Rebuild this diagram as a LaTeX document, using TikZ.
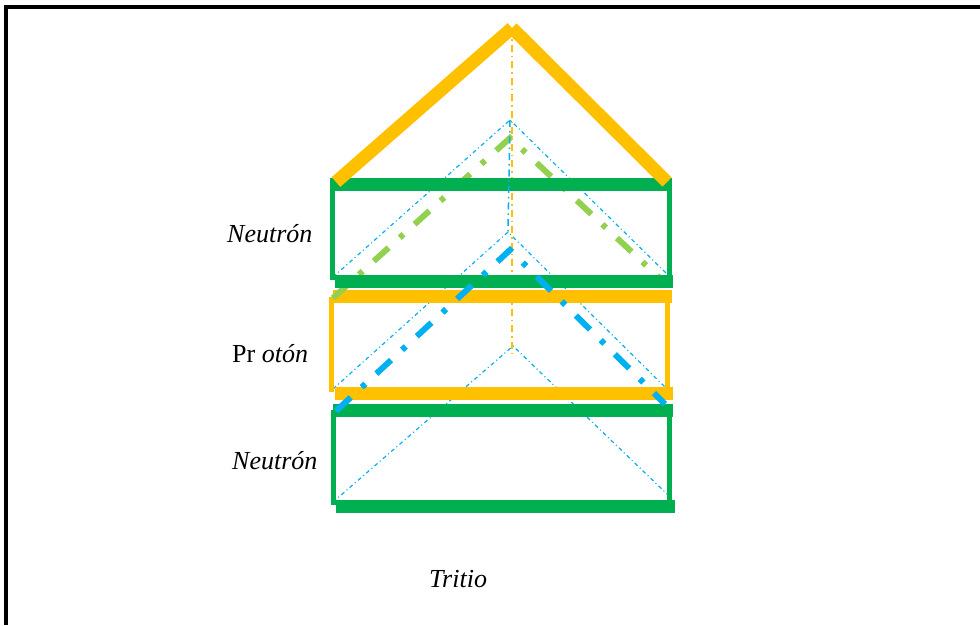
\documentclass[tikz,border=0pt]{standalone}
\usepackage{fontspec}
\setmainfont{Liberation Serif}
\definecolor{ogreen}{HTML}{00B050}
\definecolor{oorange}{HTML}{FFC000}
\definecolor{lgreen}{HTML}{92D050}
\definecolor{oblue}{HTML}{00B0F0}
\tikzset{
  frameline/.style={black, line width=4.5pt},
  bar/.style={line width=13pt},
  side/.style={line width=5pt},
  thinblue/.style={oblue, line width=1.2pt, dash pattern=on 4pt off 3pt on 1pt off 3pt},
  thickdd/.style={line width=6pt, dash pattern=on 20pt off 15pt on 5pt off 15pt},
  axisline/.style={line width=1.8pt, dash pattern=on 7pt off 4pt on 1.5pt off 4pt},
  roofline/.style={oorange, line width=13pt},
  lbl/.style={font=\fontsize{26}{30}\selectfont, anchor=base west, inner sep=0pt}
}
\begin{document}
\begin{tikzpicture}[x=1pt,y=-1pt]
\useasboundingbox (0,0) rectangle (980,625);
% frame
\coordinate (fTL) at (6,4.75);
\coordinate (fTLh) at (3.75,7);
\coordinate (fTR) at (980,7);
\coordinate (fBL) at (6,625);
\draw[frameline] (fBL) -- (fTL);
\draw[frameline] (fTLh) -- (fTR);
% thin blue triangles
\coordinate (a1) at (510,120); \coordinate (l1) at (333,277); \coordinate (r1) at (666,273);
\coordinate (a2) at (508,232); \coordinate (l2) at (333,389); \coordinate (r2) at (668,390);
\coordinate (a3) at (513,346); \coordinate (l3) at (333,502); \coordinate (r3) at (667,494);
\draw[thinblue] (l1) -- (a1) -- (r1);
\draw[thinblue] (l2) -- (a2) -- (r2);
\draw[thinblue] (l3) -- (a3) -- (r3);
% orange vertical axis
\coordinate (apex) at (512,28);
\coordinate (axend) at (512,353);
\draw[axisline, oorange] (apex) -- (axend);
% orange rectangle (proton)
\draw[bar, oorange] (333,296.5) -- (672,296.5);
\draw[side, oorange] (331.5,297) -- (331.5,392);
\draw[side, oorange] (667.5,297) -- (667.5,390);
\draw[bar, oorange] (335,393.5) -- (673,393.5);
% light green dash-dot
\coordinate (ga) at (510,138); \coordinate (gl) at (333,298); \coordinate (gr) at (665,283);
\draw[thickdd, lgreen] (gl) -- (ga) -- (gr);
% green rectangle top
\draw[bar, ogreen] (330,184.5) -- (672,184.5);
\draw[side, ogreen] (332.5,178) -- (332.5,280);
\draw[side, ogreen] (669.5,184) -- (669.5,281);
\draw[bar, ogreen] (335,281) -- (673,281);
% green rectangle bottom
\draw[bar, ogreen] (333,410) -- (673,410);
\draw[side, ogreen] (333.5,410) -- (333.5,505);
\draw[side, ogreen] (669.5,410) -- (669.5,505);
\draw[bar, ogreen] (336,506) -- (675,506);
% thick blue dash-dot
\coordinate (ba) at (510,250); \coordinate (bl) at (336,411); \coordinate (br) at (665,404);
\draw[thickdd, oblue] (bl) -- (ba) -- (br);
% blue vertical
\draw[axisline, oblue, line width=1.5pt] (a1) -- (a2);
% roof
\coordinate (rl) at (336,182);
\coordinate (rr) at (667,182);
\draw[roofline] (rl) -- (apex);
\draw[roofline] (rr) -- (apex);
% labels
\node[lbl] (n1) at (227,242) {\itshape Neutrón};
\node[lbl] (p) at (232,362) {Pr \itshape otón};
\node[lbl] (n2) at (232,469) {\itshape Neutrón};
\node[lbl] (t) at (429,587) {\itshape Tritio};
\end{tikzpicture}
\end{document}
